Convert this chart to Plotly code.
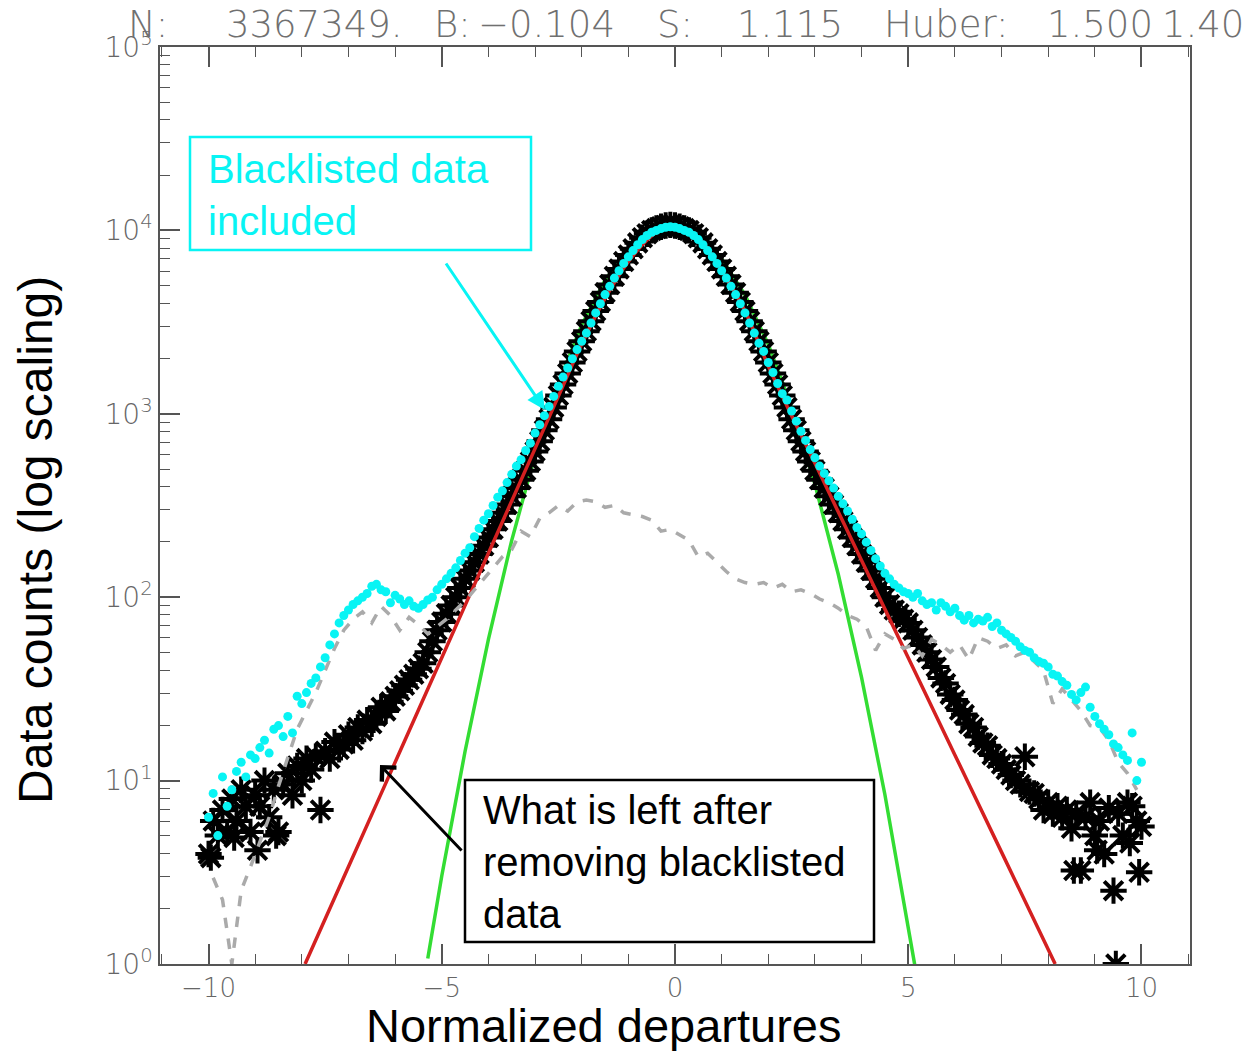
import plotly.graph_objects as go

# ---------------- data ----------------
bin_centers = [round(-10 + 0.1 * i, 1) for i in range(201)]   # -10.0 ... 10.0

# black asterisks: what is left after removing blacklisted data (log10 counts)
black_log10 = [
    0.60, 0.78, 0.70, 0.84, 0.72, 0.90, 0.78, 0.95, 0.86, 0.72,
    0.92, 0.86, 1.00, 0.80, 0.95, 0.72, 0.98, 1.04, 0.92, 1.08,
    1.00, 1.12, 1.06, 1.13, 0.84, 1.16, 1.12, 1.21, 1.17, 1.20,
    1.25, 1.22, 1.29, 1.27, 1.33, 1.31, 1.35, 1.40, 1.38, 1.43,
    1.46, 1.49, 1.52, 1.55, 1.58, 1.61, 1.64, 1.70, 1.76,
    1.82, 1.865, 1.91, 1.955, 2.00, 2.05, 2.10, 2.145, 2.19, 2.235,
    2.28, 2.325, 2.37, 2.415, 2.46, 2.505, 2.55, 2.595, 2.64, 2.69,
    2.74, 2.795, 2.85, 2.91, 2.97, 3.035, 3.10, 3.16, 3.22, 3.28,
    3.34, 3.395, 3.45, 3.505, 3.56, 3.61, 3.66, 3.705, 3.75, 3.79,
    3.83, 3.866, 3.90, 3.932, 3.96, 3.982, 4.00, 4.01, 4.02, 4.027,
    4.03,
    4.027, 4.02, 4.01, 4.00, 3.982, 3.96, 3.932, 3.90, 3.866, 3.83,
    3.79, 3.75, 3.705, 3.66, 3.61, 3.56, 3.505, 3.45, 3.395, 3.34,
    3.28, 3.22, 3.16, 3.10, 3.035, 2.97, 2.91, 2.85, 2.795, 2.74,
    2.69, 2.64, 2.595, 2.55, 2.505, 2.46, 2.415, 2.37, 2.325, 2.28,
    2.235, 2.19, 2.145, 2.10,
    2.05, 2.00, 1.96, 1.93, 1.91, 1.88, 1.86, 1.82, 1.78, 1.74,
    1.70, 1.66, 1.62, 1.56, 1.53, 1.47, 1.44, 1.385, 1.36, 1.31,
    1.29, 1.24, 1.205, 1.19, 1.14, 1.12, 1.09, 1.06, 1.03, 1.00,
    0.98, 1.13, 0.94, 0.93, 0.90, 0.84, 0.88, 0.82, 0.86, 0.80,
    0.84, 0.74, 0.82, 0.51, 0.80, 0.88, 0.70, 0.78, 0.60, 0.85,
    0.40, 0.82, 0.70, 0.88, 0.86, 0.78, 0.75,
]
black_extra_x = [-9.95, -9.45, -8.95, -8.55, 8.55, 9.05, 9.45, 9.75, 9.95]
black_extra_log10 = [0.58, 0.69, 0.62, 0.70, 0.51, 0.62, 0.0, 0.66, 0.50]

# cyan dots: blacklisted data included (log10 counts)
cyan_log10 = [
    0.80, 0.93, 0.70, 1.02, 0.86, 0.95, 1.05, 1.10, 1.02, 1.14,
    1.12, 1.18, 1.22, 1.15, 1.28, 1.30, 1.24, 1.35, 1.26, 1.46,
    1.42, 1.48, 1.53, 1.56, 1.62, 1.67, 1.74, 1.80, 1.86, 1.90,
    1.93, 1.96, 1.98, 2.00, 2.02, 2.06, 2.07, 2.04, 2.03, 1.97,
    2.01, 1.99, 1.96, 1.98, 1.95, 1.94, 1.96, 1.985, 2.00, 2.04,
    2.07, 2.10, 2.13, 2.16, 2.20, 2.24, 2.27,
    2.33, 2.375, 2.42, 2.455, 2.50, 2.545, 2.58, 2.625, 2.67, 2.715,
    2.75, 2.80, 2.84, 2.895, 2.94, 2.99, 3.04, 3.095, 3.15, 3.20,
    3.25, 3.30, 3.35, 3.395,
    3.44, 3.495, 3.55, 3.60, 3.65, 3.695, 3.74, 3.78, 3.82, 3.856,
    3.89, 3.922, 3.95, 3.972, 3.99, 4.00, 4.01, 4.017, 4.02, 4.017,
    4.01, 4.00, 3.99, 3.972, 3.95, 3.922, 3.89, 3.856, 3.82, 3.78,
    3.74, 3.695, 3.65, 3.60, 3.55, 3.495, 3.44, 3.385,
    3.34, 3.28, 3.225, 3.165, 3.11, 3.075, 3.015, 2.96, 2.905, 2.855,
    2.805, 2.76, 2.715, 2.675, 2.635, 2.595, 2.55, 2.51, 2.47, 2.425,
    2.38, 2.345, 2.30, 2.255, 2.21, 2.17, 2.13, 2.10, 2.07, 2.05,
    2.03, 2.02, 2.00, 2.02, 1.98, 1.96, 1.97, 1.93, 1.97, 1.95,
    1.92, 1.94, 1.90, 1.875, 1.90, 1.86, 1.88, 1.87, 1.89, 1.84,
    1.86, 1.82, 1.80, 1.78, 1.76, 1.73, 1.71, 1.70, 1.67, 1.65,
    1.64, 1.62, 1.58, 1.57, 1.54, 1.52, 1.47, 1.44, 1.48, 1.51,
    1.40, 1.35, 1.31, 1.28, 1.25, 1.20, 1.18, 1.14, 1.11, 1.26,
    1.00, 1.10,
]

# gray dashed: blacklisted data only
gray_x = [round(-9.9 + 0.2 * i, 1) for i in range(100)]
gray_log10 = [
    0.47, 0.35, 0.0, 0.40, 0.53, 0.66, 0.80, 0.97, 1.13, 1.28,
    1.38, 1.48, 1.60, 1.72, 1.82, 1.88, 1.92, 1.86, 1.95, 1.90,
    1.82, 1.89, 1.85, 1.80, 1.84, 1.88, 1.93, 1.98, 2.04, 2.10,
    2.16, 2.22, 2.26, 2.36, 2.33, 2.43, 2.46, 2.50, 2.47, 2.52,
    2.53, 2.52, 2.49, 2.50, 2.46, 2.45, 2.44, 2.42, 2.36, 2.37,
    2.34, 2.31, 2.22, 2.24, 2.19, 2.14, 2.10, 2.08, 2.07, 2.08,
    2.05, 2.07, 2.03, 2.04, 2.02, 1.99, 1.97, 1.94, 1.90, 1.88,
    1.84, 1.71, 1.80, 1.77, 1.72, 1.74, 1.68, 1.77, 1.74, 1.70,
    1.74, 1.66, 1.78, 1.76, 1.72, 1.74, 1.68, 1.70, 1.65, 1.60,
    1.42, 1.50, 1.44, 1.38, 1.30, 1.29, 1.22, 1.10, 1.04, 0.95,
]

# red: Huber fit
red_x = [-7.93, -7.0, -6.0, -5.0, -4.0, -3.0, -2.5, -2.0, -1.5, -1.0, -0.5, -0.1,
         0.5, 1.0, 1.5, 2.0, 2.5, 3.0, 4.0, 5.0, 6.0, 7.0, 8.15]
red_log10 = [0.0, 0.53, 1.10, 1.67, 2.24, 2.81, 3.095, 3.38, 3.63, 3.83, 3.97, 4.03,
             3.96, 3.78, 3.56, 3.26, 2.99, 2.73, 2.20, 1.67, 1.14, 0.61, 0.0]

# green: Gaussian fit
green_x = [-5.3, -5.0, -4.5, -4.0, -3.5, -3.0, -2.5, -2.0, -1.5, -1.0, -0.5, 0.0,
           0.5, 1.0, 1.5, 2.0, 2.5, 3.0, 3.5, 4.0, 4.5, 5.0, 5.15]
green_log10 = [0.03, 0.48, 1.16, 1.77, 2.31, 2.775, 3.166, 3.484, 3.728, 3.898, 3.995, 4.02,
               3.969, 3.845, 3.648, 3.378, 3.034, 2.616, 2.125, 1.561, 0.923, 0.21, -0.02]

x_tick_vals = [-10, -5, 0, 5, 10]
x_tick_text = ["\u221210", "\u22125", "0", "5", "10"]
y_tick_vals = [1, 10, 100, 1000, 10000, 100000]
y_tick_text = ["10<sup>%d</sup>" % e for e in range(6)]


def counts(logs):
    return [10 ** v for v in logs]


# ---------------- figure ----------------
W, H = 1255, 1051
L, R, T, B = 160, 65, 47, 87
PW, PH = W - L - R, H - T - B


def px(x):
    return (x - L) / PW


def py(y):
    return (H - B - y) / PH


CYAN = "#08f4f4"
fig = go.Figure()

fig.add_trace(go.Scatter(x=green_x, y=counts(green_log10), mode="lines",
                         line=dict(color="#33dd33", width=3.5), hoverinfo="skip"))
fig.add_trace(go.Scatter(x=bin_centers, y=counts(black_log10), mode="markers",
                         marker=dict(symbol="asterisk", size=22, color="black",
                                     line=dict(color="black", width=4)), hoverinfo="skip"))
fig.add_trace(go.Scatter(x=black_extra_x, y=counts(black_extra_log10), mode="markers",
                         marker=dict(symbol="asterisk", size=22, color="black",
                                     line=dict(color="black", width=4)), hoverinfo="skip"))
fig.add_trace(go.Scatter(x=red_x, y=counts(red_log10), mode="lines", line_shape="spline",
                         line=dict(color="#d42020", width=3.5), hoverinfo="skip"))
fig.add_trace(go.Scatter(x=gray_x, y=counts(gray_log10), mode="lines",
                         line=dict(color="#aaaaaa", width=3.5, dash="dash"), hoverinfo="skip"))
fig.add_trace(go.Scatter(x=bin_centers, y=counts(cyan_log10), mode="markers",
                         marker=dict(symbol="circle", size=9, color=CYAN), hoverinfo="skip"))

axis_col = "#555555"
thin = "DejaVu Sans, Roboto, sans-serif"
x_tick_font = dict(family=thin, size=26, color="#666666", weight=200)
y_tick_font = dict(family=thin, size=28, color="#666666", weight=200)

fig.update_xaxes(range=[-11.04, 11.04], tickvals=x_tick_vals, ticktext=x_tick_text,
                 ticks="inside", ticklen=20, tickwidth=1.5, tickcolor=axis_col,
                 showline=True, linecolor=axis_col, linewidth=1.5, mirror="ticks",
                 showgrid=False, zeroline=False, tickfont=x_tick_font,
                 minor=dict(dtick=1, ticks="inside", ticklen=10, tickwidth=1.2,
                            tickcolor=axis_col, showgrid=False))
minor_y = [m * 10 ** e for e in range(5) for m in range(2, 10)]
fig.update_yaxes(type="log", range=[0, 5], tickvals=y_tick_vals, ticktext=y_tick_text,
                 ticks="inside", ticklen=20, tickwidth=1.5, tickcolor=axis_col,
                 showline=True, linecolor=axis_col, linewidth=1.5, mirror=True,
                 showgrid=False, zeroline=False, tickfont=y_tick_font,
                 minor=dict(tickvals=minor_y, ticks="inside", ticklen=10, tickwidth=1.2,
                            tickcolor=axis_col, showgrid=False))

shapes = [
    dict(type="rect", xref="paper", yref="paper", x0=px(190), x1=px(531),
         y0=py(250), y1=py(137), line=dict(color=CYAN, width=2.5),
         fillcolor="white", layer="above"),
    dict(type="rect", xref="paper", yref="paper", x0=px(465), x1=px(874),
         y0=py(942), y1=py(780), line=dict(color="black", width=2.5),
         fillcolor="white", layer="above"),
]

label_font = dict(family="Liberation Sans, Arial, sans-serif", size=40)
annotations = [
    dict(xref="paper", yref="paper", x=px(206), y=py(195), xanchor="left", yanchor="middle",
         align="left", showarrow=False, text="Blacklisted data<br>included",
         font=dict(color=CYAN, **label_font)),
    dict(xref="paper", yref="paper", x=px(481), y=py(862), xanchor="left", yanchor="middle",
         align="left", showarrow=False, text="What is left after<br>removing blacklisted<br>data",
         font=dict(color="black", **label_font)),
    dict(xref="paper", yref="paper", x=px(545), y=py(410), ax=445 - 545, ay=262 - 410,
         text="", showarrow=True, arrowcolor=CYAN, arrowwidth=3, arrowhead=2, arrowsize=1.2),
    dict(xref="paper", yref="paper", x=px(380), y=py(765), ax=463 - 380, ay=852 - 765,
         text="", showarrow=True, arrowcolor="black", arrowwidth=3, arrowhead=4, arrowsize=1.3),
    dict(xref="paper", yref="paper", x=px(603), y=py(1025), xanchor="center", yanchor="middle",
         showarrow=False, text="Normalized departures",
         font=dict(family="Liberation Sans, Arial, sans-serif", size=47, color="black")),
    dict(xref="paper", yref="paper", x=px(35), y=py(540), xanchor="center", yanchor="middle",
         showarrow=False, text="Data counts (log scaling)", textangle=-90,
         font=dict(family="Liberation Sans, Arial, sans-serif", size=48, color="black")),
]

header_font = dict(family=thin, size=37, color="#707070", weight=200)
header_parts = [("N:", 126), ("3367349.", 224), ("B:", 432), ("\u22120.104", 476),
                ("S:", 655), ("1.115", 735), ("Huber:", 882), ("1.500", 1045), ("1.40", 1160)]
for txt, xp in header_parts:
    annotations.append(dict(xref="paper", yref="paper", x=px(xp), y=py(24), xanchor="left",
                            yanchor="middle", showarrow=False, text=txt, font=header_font))

fig.update_layout(width=W, height=H, margin=dict(l=L, r=R, t=T, b=B),
                  paper_bgcolor="white", plot_bgcolor="white", showlegend=False,
                  shapes=shapes, annotations=annotations)

fig.write_html("out.html")
